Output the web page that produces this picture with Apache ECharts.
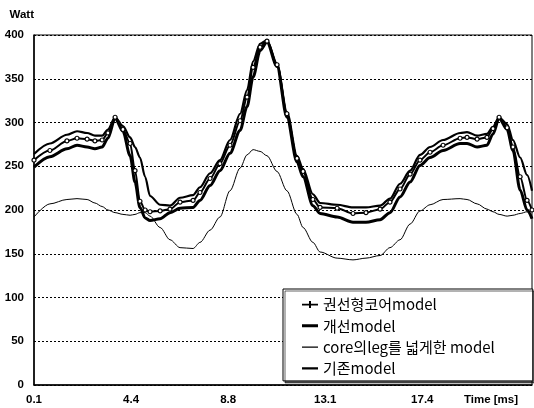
<!DOCTYPE html>
<html>
<head>
<meta charset="utf-8">
<script src="https://cdn.jsdelivr.net/npm/echarts@6/dist/echarts.min.js"></script>
<style>
html,body{margin:0;padding:0;background:#fff;}
#chart{width:534px;height:408px;}
</style>
</head>
<body>
<div id="chart"></div>
<script>
// Time axis (ms)
const timeMs = [0.10,0.81,1.57,2.02,2.47,2.82,3.14,3.40,3.72,4.07,4.39,4.61,4.83,5.06,5.28,5.73,6.17,6.62,7.20,7.51,7.96,8.40,8.85,9.30,9.61,9.88,10.19,10.50,10.95,11.39,11.84,12.11,12.55,12.87,13.63,14.34,14.92,15.55,15.99,16.44,16.89,17.33,17.78,18.36,19.12,19.43,19.88,20.32,20.59,20.86,21.22,21.48,21.80,22.11,22.33];
// 권선형코어model (middle curve, with markers)
const woundCore = [257,268,279,282,281,279,280,288,306,292,276,245,210,200,198,199,201,209,211,220,236,253,274,302,329,363,386,393,366,310,259,244,212,203,202,196,197,201,209,224,241,257,266,274,282,283,281,283,293,306,294,272,238,211,200];
// 개선model (lower thick curve)
const improved = [249,261,270,274,272,270,272,282,305,290,262,232,203,191,188,190,197,202,203,211,228,245,265,291,318,352,382,392,364,306,255,238,205,196,192,186,186,189,197,215,232,251,260,268,276,276,272,274,287,305,292,268,223,200,190];
// core의leg를 넓게한 model (thin curve)
const wideLeg = [192,207,212,213,212,208,204,200,197,195,194,195,197,197,193,180,166,157,156,163,177,192,222,248,263,269,267,262,244,222,195,180,163,152,145,143,145,148,157,166,184,199,206,212,213,212,207,201,198,195,193,194,196,198,192];
// 기존model (upper curve)
const original = [264,276,286,290,288,285,285,292,306,296,283,272,260,238,216,206,205,214,217,226,242,257,280,310,337,370,390,394,367,312,262,247,218,208,206,203,203,205,213,230,245,263,272,280,288,289,285,287,295,306,298,280,260,240,222];

const xTickLabels = ['0.1','4.4','8.8','13.1','17.4'];
const seriesNames = ['권선형코어model','개선model','core의leg를 넓게한 model','기존model'];

const t0 = 0.1;
const toPairs = vals => vals.map((v, i) => [timeMs[i] - t0, v]);

// legend icons: horizontal strokes inside a 16x14 box (corner dots fix the box)
const box = 'M0,0h0.05v0.05h-0.05z M15.95,13.95h0.05v0.05h-0.05z ';
const iconMarker = 'path://' + box + 'M0,6.2h16v1.8h-16z M7,3.5h2v7h-2z';
const iconThick = 'path://' + box + 'M0,5.5h16v3h-16z';
const iconThin = 'path://' + box + 'M0,6.4h16v1.2h-16z';
const iconMedium = 'path://' + box + 'M0,5.8h16v2.4h-16z';

const chart = echarts.init(document.getElementById('chart'));
const axisFont = {color:'#000', fontFamily:'Liberation Sans', fontWeight:'bold', fontSize:11.5};

chart.setOption({
  animation: false,
  backgroundColor: '#fff',
  grid: {left:34, right:2, top:35, bottom:23, show:true, borderColor:'#000', borderWidth:1},
  xAxis: {
    type:'value', min:0, max:22.23, interval:13/3,
    axisLine:{lineStyle:{color:'#000', width:1.5}},
    axisTick:{show:false},
    splitLine:{show:false},
    axisLabel:Object.assign({margin:9, showMaxLabel:false, formatter:(v, i) => xTickLabels[i] || ''}, axisFont),
    name:'Time [ms]', nameLocation:'end', nameGap:-14,
    nameTextStyle:Object.assign({align:'right', verticalAlign:'top', padding:[9,0,0,0]}, axisFont)
  },
  yAxis: {
    type:'value', min:0, max:400, interval:50,
    axisLine:{show:true, lineStyle:{color:'#000', width:1.5}},
    axisTick:{show:false},
    splitLine:{lineStyle:{color:'#000', type:[2,2], width:1}},
    axisLabel:Object.assign({margin:10}, axisFont),
    name:'Watt', nameLocation:'end', nameGap:14,
    nameTextStyle:Object.assign({align:'right', verticalAlign:'bottom'}, axisFont)
  },
  legend: {
    orient:'vertical', left:283, top:289,
    padding:[8,38,5,19], itemWidth:16, itemHeight:14, itemGap:6.3,
    backgroundColor:'#fff', borderColor:'#000', borderWidth:1,
    shadowColor:'rgba(0,0,0,0.6)', shadowOffsetX:2, shadowOffsetY:2, shadowBlur:0,
    textStyle:{fontFamily:'Noto Sans CJK KR', fontSize:15, color:'#000', fontWeight:'normal'},
    data: [
      {name:seriesNames[0], icon:iconMarker, itemStyle:{color:'#000', borderWidth:0}},
      {name:seriesNames[1], icon:iconThick, itemStyle:{color:'#000', borderWidth:0}},
      {name:seriesNames[2], icon:iconThin, itemStyle:{color:'#000', borderWidth:0}},
      {name:seriesNames[3], icon:iconMedium, itemStyle:{color:'#000', borderWidth:0}}
    ]
  },
  series: [
    {name:seriesNames[0], type:'line', data:toPairs(woundCore), smooth:0.3, smoothMonotone:'x',
     symbol:'circle', symbolSize:4, showSymbol:true,
     itemStyle:{color:'#fff', borderColor:'#000', borderWidth:1.2},
     lineStyle:{color:'#000', width:2}, z:4},
    {name:seriesNames[1], type:'line', data:toPairs(improved), smooth:0.3, smoothMonotone:'x',
     symbol:'none', itemStyle:{color:'#000'}, lineStyle:{color:'#000', width:3}, z:3},
    {name:seriesNames[2], type:'line', data:toPairs(wideLeg), smooth:0.3, smoothMonotone:'x',
     symbol:'none', itemStyle:{color:'#000'}, lineStyle:{color:'#000', width:1}, z:3},
    {name:seriesNames[3], type:'line', data:toPairs(original), smooth:0.3, smoothMonotone:'x',
     symbol:'none', itemStyle:{color:'#000'}, lineStyle:{color:'#000', width:2.2}, z:3}
  ]
});
</script>
</body>
</html>
